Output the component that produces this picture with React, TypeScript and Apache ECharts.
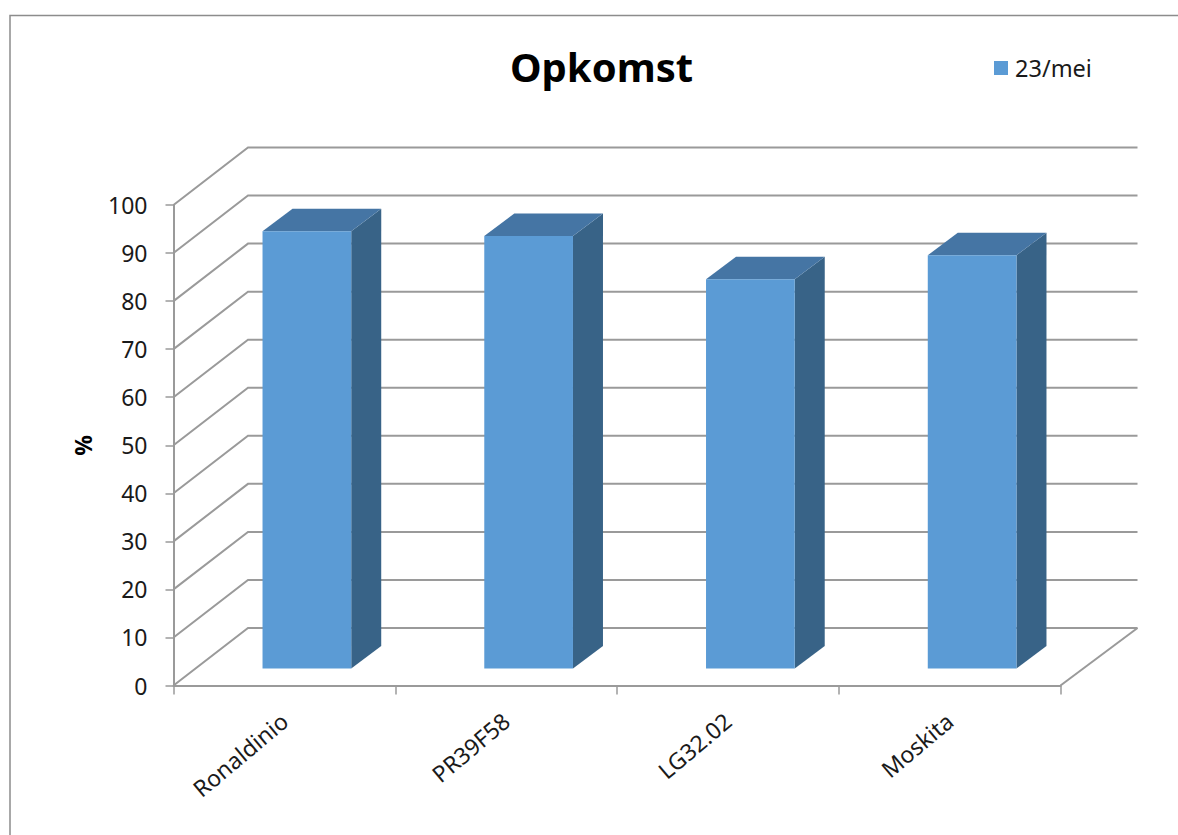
import React, { useEffect, useRef } from "react";
import * as echarts from "echarts";

const categories = ["Ronaldinio", "PR39F58", "LG32.02", "Moskita"];
const seriesName = "23/mei";
const values = [91, 90, 81, 86];
const wallTicks = [0, 10, 20, 30, 40, 50, 60, 70, 80, 90, 100];

const FONT = '"Noto Sans", sans-serif';
const GREY = "#9a9a9a";
const WALL_DX = 74.5;
const WALL_DY = -57.5;
const BAR_DX = 22.5;
const BAR_DY = -17;
const SIDE_DX = 30;
const SIDE_DY = -22.5;
const BAR_RATIO = 0.4;

function renderWall(params: any, api: any) {
  const v = api.value(1);
  const cs = params.coordSys;
  const y = api.coord([0, v])[1];
  const x0 = cs.x;
  const x1 = cs.x + cs.width;
  const shape = { shape: { points: [[x0, y], [x0 + WALL_DX, y + WALL_DY], [x1 + WALL_DX + 2.5, y + WALL_DY]] } };
  const children: any[] = [
    { type: "polyline", ...shape, style: { fill: "none", stroke: GREY, lineWidth: 2 } },
  ];
  if (v === 0) {
    children.push({
      type: "line",
      shape: { x1: x1 + WALL_DX + 2.5, y1: y + WALL_DY, x2: x1, y2: y },
      style: { stroke: GREY, lineWidth: 2 },
    });
  }
  return { type: "group", children };
}

function renderBar(_params: any, api: any) {
  const idx = api.value(0);
  const top = api.coord([idx, api.value(1)]);
  const base = api.coord([idx, 0]);
  const w = api.size([1, 0])[0] * BAR_RATIO;
  const l = top[0] - w / 2 + BAR_DX;
  const r = l + w;
  const t = top[1] + BAR_DY;
  const b = base[1] + BAR_DY;
  return {
    type: "group",
    children: [
      {
        type: "polygon",
        shape: { points: [[r, t], [r + SIDE_DX, t + SIDE_DY], [r + SIDE_DX, b + SIDE_DY], [r, b]] },
        style: { fill: "#386387" },
      },
      {
        type: "polygon",
        shape: { points: [[l, t], [l + SIDE_DX, t + SIDE_DY], [r + SIDE_DX, t + SIDE_DY], [r, t]] },
        style: { fill: "#4575a4" },
      },
      {
        type: "rect",
        shape: { x: l, y: t, width: w, height: b - t },
        style: { fill: "#5b9bd5" },
      },
    ],
  };
}

export default function App() {
  const ref = useRef<HTMLDivElement>(null);
  useEffect(() => {
    document.body.style.margin = "0";
    const chart = echarts.init(ref.current!, undefined, { renderer: "svg" });
    chart.setOption({
      animation: false,
      backgroundColor: "#ffffff",
      title: {
        text: "Opkomst",
        left: 596.5,
        top: 41,
        textAlign: "center",
        textStyle: { fontFamily: FONT, fontSize: 40, fontWeight: "bold", color: "#000000" },
      },
      legend: {
        left: 989,
        top: 51,
        icon: "rect",
        itemWidth: 14,
        itemHeight: 14,
        itemGap: 0,
        data: [seriesName],
        textStyle: { fontFamily: FONT, fontSize: 23.5, color: "#1a1a1a", padding: [0, 0, 0, 2] },
      },
      grid: { left: 173.5, top: 205, width: 887, height: 480.5 },
      graphic: [
        {
          type: "polyline",
          silent: true,
          shape: { points: [[10, 835], [10, 15.5], [1178, 15.5]] },
          style: { fill: "none", stroke: "#8c8c8c", lineWidth: 1.5 },
        },
      ],
      xAxis: {
        type: "category",
        data: categories,
        boundaryGap: true,
        axisLine: { show: true, lineStyle: { color: GREY, width: 2 } },
        axisTick: { show: true, length: 9, lineStyle: { color: GREY, width: 1.5 } },
        axisLabel: {
          rotate: 40,
          margin: 32,
          interval: 0,
          fontFamily: FONT,
          fontSize: 23,
          color: "#1a1a1a",
        },
        splitLine: { show: false },
      },
      yAxis: {
        type: "value",
        min: 0,
        max: 100,
        interval: 10,
        name: "%",
        nameLocation: "middle",
        nameGap: 79,
        nameTextStyle: { fontFamily: FONT, fontSize: 23, fontWeight: "bold", color: "#000000" },
        axisLine: { show: true, lineStyle: { color: GREY, width: 2 } },
        axisTick: { show: true, length: 8, lineStyle: { color: GREY, width: 1.5 } },
        axisLabel: { margin: 26, fontFamily: FONT, fontSize: 23, color: "#1a1a1a" },
        splitLine: { show: false },
      },
      series: [
        {
          type: "custom",
          name: "wall",
          silent: true,
          renderItem: renderWall,
          encode: { x: 0, y: 1 },
          data: wallTicks.map((v) => [0, v]),
          z: 1,
        },
        {
          type: "custom",
          name: seriesName,
          itemStyle: { color: "#5b9bd5" },
          renderItem: renderBar,
          encode: { x: 0, y: 1 },
          data: values.map((v, i) => [i, v]),
          z: 3,
        },
      ],
    });
    return () => chart.dispose();
  }, []);
  return <div ref={ref} style={{ width: 1178, height: 835 }} />;
}
